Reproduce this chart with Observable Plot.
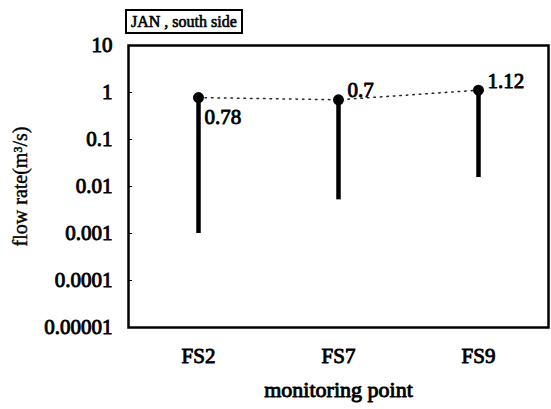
<!DOCTYPE html>
<html>
<head>
<meta charset="utf-8">
<script src="https://cdn.jsdelivr.net/npm/d3@7"></script>
<script src="https://cdn.jsdelivr.net/npm/@observablehq/plot@0.6"></script>
<style>
  html, body { margin: 0; padding: 0; background: #fff; }
  #wrap { position: relative; width: 551px; height: 409px; }
  #tag {
    position: absolute; left: 125px; top: 9px;
    border: 2px solid #000; padding: 2px 4px 2px 4px;
    font: normal 16px "Liberation Serif", serif; color: #000;
    -webkit-text-stroke: 0.6px #000;
    line-height: 17px;
  }
  #wrap svg text { font-family: "Liberation Serif", serif; }
  /* heavier strokes give the tick labels a bold typeset look */
  #wrap svg g[aria-label$="tick label"] text {
    font-weight: normal; stroke: #000; stroke-width: 0.9px;
  }
</style>
</head>
<body>
<div id="wrap">
  <div id="tag">JAN , south side</div>
</div>
<script>
// Monitoring points along the south side, January
const points = ["FS2", "FS7", "FS9"];
const maxFlow = [0.78, 0.7, 1.12];      // peak flow rate (m³/s), labelled
const minFlow = [0.001, 0.0052, 0.0155]; // lowest flow rate (m³/s)
const yTicks = [10, 1, 0.1, 0.01, 0.001, 0.0001, 0.00001];
const yTickLabels = ["10", "1", "0.1", "0.01", "0.001", "0.0001", "0.00001"];
const labelOffsets = [{dx: 6, dy: 20}, {dx: 9, dy: -10}, {dx: 9, dy: -9}];
const serif = "'Liberation Serif', serif";

const rows = points.map((p, i) => ({
  point: p, max: maxFlow[i], min: minFlow[i],
  dx: labelOffsets[i].dx, dy: labelOffsets[i].dy
}));

const chart = Plot.plot({
  width: 551,
  height: 409,
  marginLeft: 128,
  marginRight: 3,
  marginTop: 45,
  marginBottom: 82,
  style: {fontFamily: serif, color: "#000", background: "#fff"},
  x: {type: "point", domain: points, padding: 0.5},
  y: {type: "log", domain: [0.00001, 10]},
  marks: [
    Plot.frame({stroke: "#000", strokeWidth: 2.5}),
    Plot.axisY({
      ticks: yTicks,
      tickFormat: (d) => yTickLabels[yTicks.indexOf(d)],
      tickSize: -4,
      tickPadding: 20,
      fontSize: 21,
      label: null
    }),
    Plot.axisX({
      tickSize: 0,
      tickPadding: 21,
      fontSize: 21,
      label: null
    }),
    Plot.text(["flow rate(m³/s)"], {
      frameAnchor: "left", textAnchor: "middle", dx: -108, rotate: -90,
      fontSize: 20, fill: "#000", stroke: "#000", strokeWidth: 0.4
    }),
    Plot.text(["monitoring point"], {
      frameAnchor: "bottom", dy: 69, fontSize: 22,
      fill: "#000", stroke: "#000", strokeWidth: 0.9
    }),
    Plot.line(rows, {
      x: "point", y: "max", stroke: "#222", strokeWidth: 1.5,
      strokeDasharray: "1.5,5"
    }),
    Plot.ruleX(rows, {x: "point", y1: "min", y2: "max", stroke: "#000", strokeWidth: 4.5}),
    Plot.dot(rows, {x: "point", y: "max", r: 5.5, fill: "#000"}),
    ...rows.map((r) => Plot.text([r], {
      x: "point", y: "max", text: (d) => String(d.max),
      textAnchor: "start", dx: r.dx, dy: r.dy, fontSize: 21,
      fill: "#000", stroke: "#000", strokeWidth: 0.9
    }))
  ]
});
document.getElementById("wrap").prepend(chart);
</script>
</body>
</html>
